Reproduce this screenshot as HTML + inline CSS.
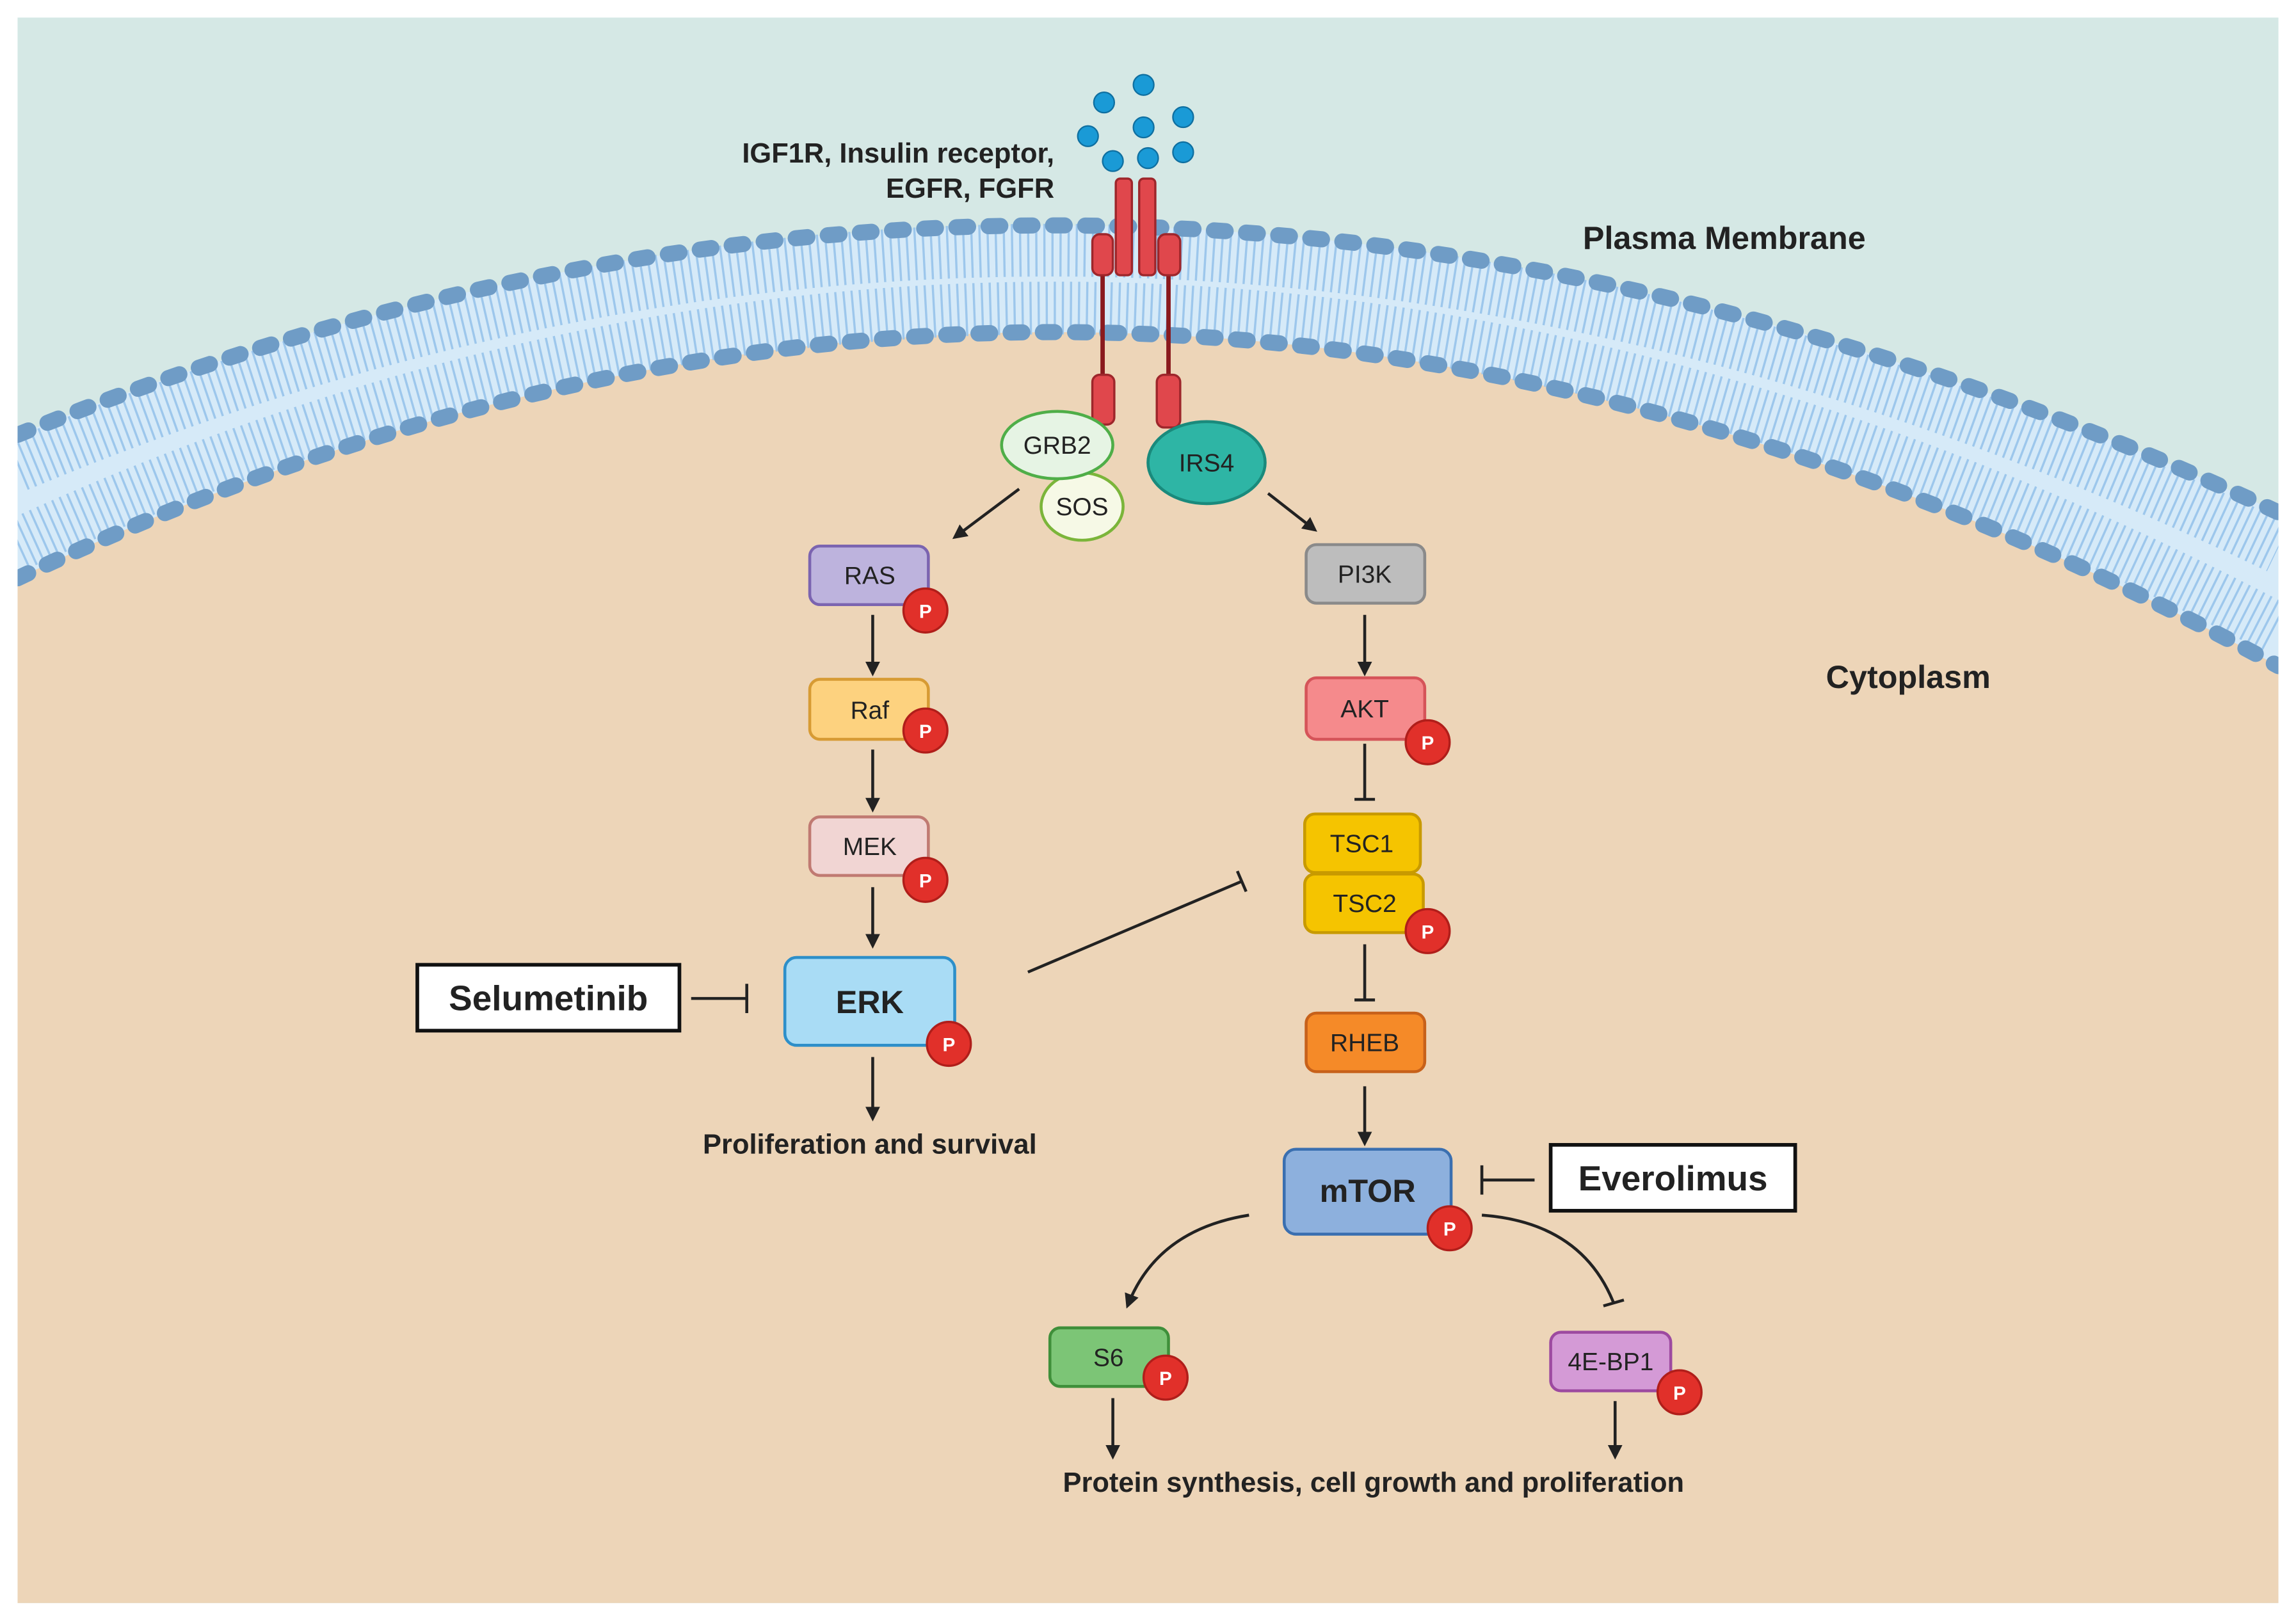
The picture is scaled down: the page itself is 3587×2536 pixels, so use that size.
<!DOCTYPE html>
<html><head><meta charset="utf-8"><style>html,body{margin:0;padding:0;background:#fff}svg{display:block}text{font-family:"Liberation Sans",sans-serif;fill:#222}</style></head>
<body>
<svg width="3587" height="2536" viewBox="0 0 1568 1108.6" preserveAspectRatio="none" xmlns="http://www.w3.org/2000/svg">
<defs>
<marker id="ah" markerWidth="10" markerHeight="10" refX="8" refY="5" orient="auto" markerUnits="userSpaceOnUse"><path d="M0,0 L10,5 L0,10 Z" fill="#222"/></marker>
<clipPath id="cl"><rect x="12" y="12" width="1544" height="1083"/></clipPath>
</defs>
<rect x="12" y="12" width="1544" height="1083" fill="#d5e8e5"/>
<g clip-path="url(#cl)">
<path d="M12,297 Q776,-13.5 1556,350 L1556,1095 L12,1095 Z" fill="#edd5b8"/>
<path d="M12,297 Q776,-13.5 1556,350 L1556,455 Q776,31 12,395 Z" fill="#d6eaf8"/>
<path d="M12,318 Q776,-2 1556,374" fill="none" stroke="#9dc7ec" stroke-width="36" stroke-dasharray="1.5 4"/>
<path d="M12,372 Q776,22 1556,430" fill="none" stroke="#9dc7ec" stroke-width="36" stroke-dasharray="1.5 4"/>
<path d="M12,297 Q776,-13.5 1556,350" fill="none" stroke="#6f9cc6" stroke-width="11" stroke-dasharray="8 14" stroke-linecap="round"/>
<path d="M12,395 Q776,31 1556,455" fill="none" stroke="#6f9cc6" stroke-width="11" stroke-dasharray="8 14" stroke-linecap="round"/>
</g>
<!-- ligands -->
<g fill="#1a9ad6" stroke="#0f6fa0" stroke-width="1">
<circle cx="754" cy="70" r="7"/><circle cx="781" cy="58" r="7"/><circle cx="743" cy="93" r="7"/><circle cx="781" cy="87" r="7"/><circle cx="808" cy="80" r="7"/><circle cx="760" cy="110" r="7"/><circle cx="784" cy="108" r="7"/><circle cx="808" cy="104" r="7"/>
</g>
<!-- receptor -->
<line x1="753" y1="180" x2="753" y2="262" stroke="#8a1a1e" stroke-width="3"/>
<line x1="798" y1="180" x2="798" y2="262" stroke="#8a1a1e" stroke-width="3"/>
<g fill="#e0474c" stroke="#9e262b" stroke-width="1.5">
<rect x="762" y="122" width="11" height="66" rx="3"/><rect x="778" y="122" width="11" height="66" rx="3"/>
<rect x="746" y="160" width="14" height="28" rx="5"/><rect x="791" y="160" width="15" height="28" rx="5"/>
<rect x="746" y="256" width="15" height="34" rx="5"/><rect x="790" y="256" width="16" height="36" rx="5"/>
</g>
<text x="720" y="111" font-size="19" font-weight="bold" text-anchor="end">IGF1R, Insulin receptor,</text>
<text x="720" y="135" font-size="19" font-weight="bold" text-anchor="end">EGFR, FGFR</text>
<text x="1081" y="170" font-size="22" font-weight="bold">Plasma Membrane</text>
<text x="1247" y="470" font-size="22" font-weight="bold">Cytoplasm</text>
<!-- adaptors -->
<ellipse cx="739" cy="346" rx="28" ry="23" fill="#f6f9e6" stroke="#7bb53a" stroke-width="2"/>
<text x="739" y="352" font-size="17" text-anchor="middle">SOS</text>
<ellipse cx="722" cy="304" rx="38" ry="23" fill="#e6f4e4" stroke="#4fae48" stroke-width="2"/>
<text x="722" y="310" font-size="17" text-anchor="middle">GRB2</text>
<ellipse cx="824" cy="316" rx="40" ry="28" fill="#2eb5a5" stroke="#1a8a7c" stroke-width="2"/>
<text x="824" y="322" font-size="17" text-anchor="middle">IRS4</text>
<!-- arrows -->
<g stroke="#222" stroke-width="2" fill="none">
<line x1="696" y1="334" x2="652" y2="367" marker-end="url(#ah)"/>
<line x1="866" y1="337" x2="898" y2="362" marker-end="url(#ah)"/>
<line x1="596" y1="420" x2="596" y2="460" marker-end="url(#ah)"/>
<line x1="596" y1="512" x2="596" y2="553" marker-end="url(#ah)"/>
<line x1="596" y1="606" x2="596" y2="646" marker-end="url(#ah)"/>
<line x1="596" y1="722" x2="596" y2="764" marker-end="url(#ah)"/>
<line x1="932" y1="420" x2="932" y2="460" marker-end="url(#ah)"/>
<line x1="932" y1="742" x2="932" y2="781" marker-end="url(#ah)"/>
<line x1="760" y1="955" x2="760" y2="995" marker-end="url(#ah)"/>
<line x1="1103" y1="957" x2="1103" y2="995" marker-end="url(#ah)"/>
<path d="M853,830 Q790,840 770,892" marker-end="url(#ah)"/>
<line x1="932" y1="508" x2="932" y2="546"/><line x1="925" y1="546" x2="939" y2="546"/>
<line x1="932" y1="645" x2="932" y2="683"/><line x1="925" y1="683" x2="939" y2="683"/>
<line x1="702" y1="664" x2="848" y2="602"/><line x1="845" y1="595" x2="851" y2="609"/>
<line x1="472" y1="682" x2="510" y2="682"/><line x1="510" y1="672" x2="510" y2="692"/>
<line x1="1048" y1="806" x2="1012" y2="806"/><line x1="1012" y1="796" x2="1012" y2="816"/>
<path d="M1012,830 Q1080,835 1102,890"/><line x1="1095" y1="892" x2="1109" y2="888"/>
</g>
<!-- boxes -->
<g stroke-width="2">
<rect x="553" y="373" width="81" height="40" rx="7" fill="#bdb3dd" stroke="#7b64b0"/>
<rect x="553" y="464" width="81" height="41" rx="7" fill="#fdd27f" stroke="#d79b34"/>
<rect x="553" y="558" width="81" height="40" rx="7" fill="#f1d5d3" stroke="#c07a72"/>
<rect x="536" y="654" width="116" height="60" rx="8" fill="#a9dcf5" stroke="#2d8fc9"/>
<rect x="892" y="372" width="81" height="40" rx="7" fill="#bdbdbd" stroke="#8a8a8a"/>
<rect x="892" y="463" width="81" height="42" rx="7" fill="#f58a8c" stroke="#d55459"/>
<rect x="891" y="556" width="79" height="40" rx="7" fill="#f5c400" stroke="#c89a00"/>
<rect x="891" y="597" width="81" height="40" rx="7" fill="#f5c400" stroke="#c89a00"/>
<rect x="892" y="692" width="81" height="40" rx="7" fill="#f58a28" stroke="#c7611a"/>
<rect x="877" y="785" width="114" height="58" rx="8" fill="#8db0dd" stroke="#3a6fb0"/>
<rect x="717" y="907" width="81" height="40" rx="7" fill="#7cc576" stroke="#3f8f3a"/>
<rect x="1059" y="910" width="82" height="40" rx="7" fill="#d49ad6" stroke="#9d4aa0"/>
</g>
<g font-size="17" text-anchor="middle">
<text x="594" y="399">RAS</text><text x="594" y="491">Raf</text><text x="594" y="584">MEK</text>
<text x="932" y="398">PI3K</text><text x="932" y="490">AKT</text><text x="930" y="582">TSC1</text>
<text x="932" y="623">TSC2</text><text x="932" y="718">RHEB</text><text x="757" y="933">S6</text><text x="1100" y="936">4E-BP1</text>
</g>
<text x="594" y="692" font-size="22" font-weight="bold" text-anchor="middle">ERK</text>
<text x="934" y="821" font-size="22" font-weight="bold" text-anchor="middle">mTOR</text>
<!-- P -->
<g fill="#e1302a" stroke="#b01e1a" stroke-width="1.5">
<circle cx="632" cy="417" r="15"/><circle cx="632" cy="499" r="15"/><circle cx="632" cy="601" r="15"/><circle cx="648" cy="713" r="15"/><circle cx="975" cy="507" r="15"/><circle cx="975" cy="636" r="15"/><circle cx="990" cy="839" r="15"/><circle cx="796" cy="941" r="15"/><circle cx="1147" cy="951" r="15"/>
</g>
<g font-size="13" font-weight="bold" text-anchor="middle" style="fill:#fff">
<text x="632" y="422" style="fill:#fff">P</text><text x="632" y="504" style="fill:#fff">P</text><text x="632" y="606" style="fill:#fff">P</text><text x="648" y="718" style="fill:#fff">P</text><text x="975" y="512" style="fill:#fff">P</text><text x="975" y="641" style="fill:#fff">P</text><text x="990" y="844" style="fill:#fff">P</text><text x="796" y="946" style="fill:#fff">P</text><text x="1147" y="956" style="fill:#fff">P</text>
</g>
<text x="594" y="788" font-size="19" font-weight="bold" text-anchor="middle">Proliferation and survival</text>
<text x="938" y="1019" font-size="19" font-weight="bold" text-anchor="middle">Protein synthesis, cell growth and proliferation</text>
<rect x="285" y="659" width="179" height="45" fill="#fff" stroke="#111" stroke-width="2.5"/>
<text x="374.5" y="690" font-size="24" font-weight="bold" text-anchor="middle">Selumetinib</text>
<rect x="1059" y="782" width="167" height="45" fill="#fff" stroke="#111" stroke-width="2.5"/>
<text x="1142.5" y="813" font-size="24" font-weight="bold" text-anchor="middle">Everolimus</text>
</svg>
</body></html>
